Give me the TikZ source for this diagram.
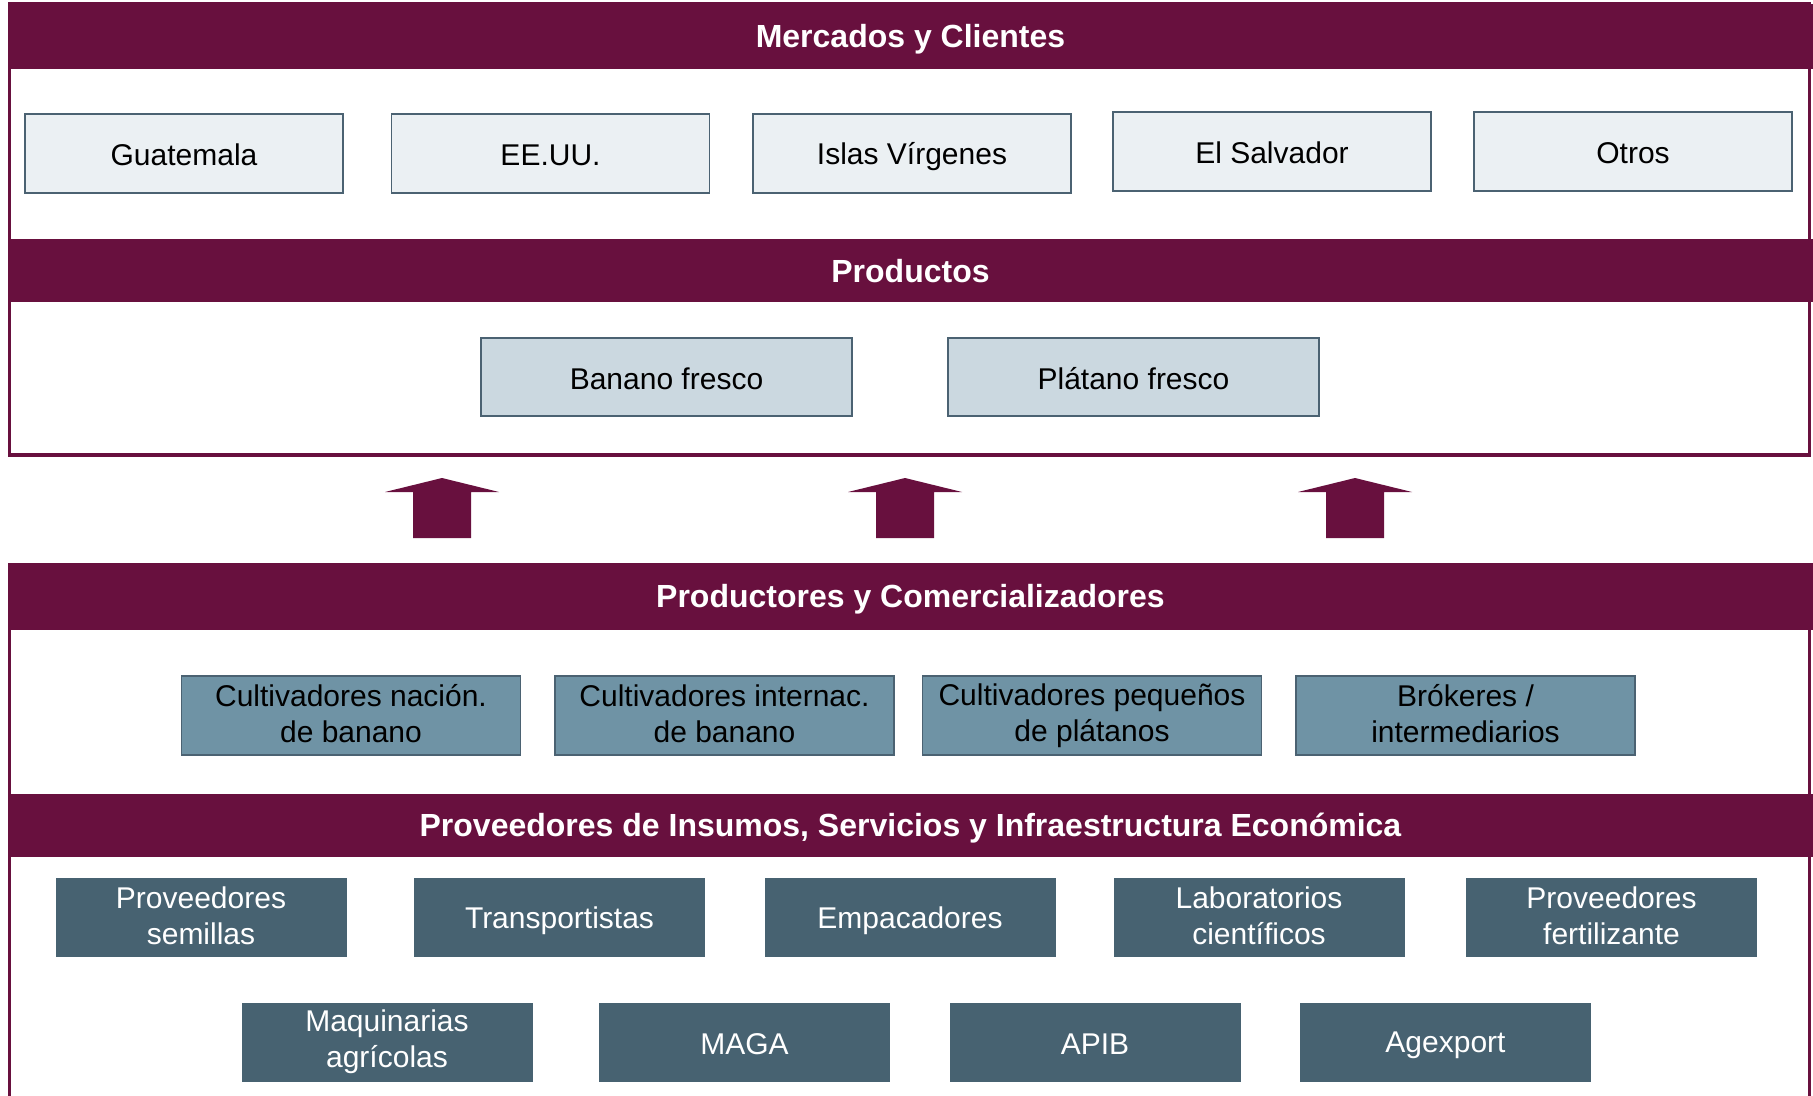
\documentclass[tikz,border=0pt]{standalone}
\usepackage{fontspec}
\setmainfont{Liberation Sans}
\usetikzlibrary{calc}
\definecolor{vino}{RGB}{104,16,62}
\definecolor{borde}{RGB}{75,98,114}
\definecolor{claro}{RGB}{235,240,243}
\definecolor{medio}{RGB}{203,216,224}
\definecolor{azul}{RGB}{111,147,165}
\definecolor{oscuro}{RGB}{71,98,113}
\newcommand\puntal{\rule[-2pt]{0pt}{16pt}}

\begin{document}
\begin{tikzpicture}[x=0.5pt,y=-0.5pt,
	every node/.style={font=\fontsize{15}{18}\selectfont, align=center, inner sep=0pt,
		execute at begin node=\puntal, execute at end node=\puntal},
	barra/.style={fill=vino, text=white, font=\fontsize{16}{19}\selectfont\bfseries, minimum width=902.5pt},
	pais/.style={draw=borde, fill=claro, line width=0.8pt, minimum width=159pt, minimum height=39.5pt},
	producto/.style={draw=borde, fill=medio, line width=0.8pt, minimum width=185.5pt, minimum height=39pt},
	productor/.style={draw=borde, fill=azul, line width=0.8pt, minimum width=169.5pt, minimum height=39.5pt},
	insumo/.style={fill=oscuro, text=white, minimum width=145.5pt, minimum height=39.5pt}]
	\useasboundingbox (0,0) rectangle (1813,1096);
	
	% marcos
	\draw[vino, line width=1.6pt] (9.5,4) rectangle (1809.5,455);
	\draw[vino, line width=1.6pt] (9.5,563) -- (9.5,1100);
	\draw[vino, line width=1.6pt] (1809.5,563) -- (1809.5,1100);
	
	% barras de titulo
	\node[barra, minimum height=32.5pt] (mercados) at (910.5,36.5) {Mercados y Clientes};
	\node[barra, minimum height=31.5pt] (productos) at (910.5,270.5) {Productos};
	\node[barra, minimum height=33.5pt] (productores) at (910.5,596.5) {Productores y Comercializadores};
	\node[barra, minimum height=31.5pt] (proveedores) at (910.5,825.5) {Proveedores de Insumos, Servicios y Infraestructura Económica};
	
	% mercados
	\node[pais] (guatemala) at (184,153.5) {Guatemala};
	\node[pais] (eeuu) at (550.5,153.5) {EE.UU.};
	\node[pais] (islas) at (912,153.5) {Islas Vírgenes};
	\node[pais] (salvador) at (1272,151.5) {El Salvador};
	\node[pais] (otros) at (1633,151.5) {Otros};
	
	% productos
	\node[producto] (banano) at (666.5,377) {Banano fresco};
	\node[producto] (platano) at (1133.5,377) {Plátano fresco};
	
	% flechas
	\foreach \cx in {442,905,1355}
	{
		\fill[vino] (\cx,478) -- (\cx+57,492) -- (\cx+29,492) -- (\cx+29,538)
			-- (\cx-29,538) -- (\cx-29,492) -- (\cx-57,492) -- cycle;
	}
	
	% productores
	\node[productor] (nacion) at (351,715.5) {Cultivadores nación.\\de banano};
	\node[productor] (internac) at (724.5,715.5) {Cultivadores internac.\\de banano};
	\node[productor] (pequenos) at (1092,715.5) {Cultivadores pequeños\\de plátanos};
	\node[productor] (brokeres) at (1465.5,715.5) {Brókeres /\\intermediarios};
	
	% proveedores
	\node[insumo] (semillas) at (201,917.5) {Proveedores\\semillas};
	\node[insumo] (transporte) at (559.5,917.5) {Transportistas};
	\node[insumo] (empacadores) at (910,917.5) {Empacadores};
	\node[insumo] (laboratorios) at (1259,917.5) {Laboratorios\\científicos};
	\node[insumo] (fertilizante) at (1611.5,917.5) {Proveedores\\fertilizante};
	\node[insumo] (maquinarias) at (387,1042) {Maquinarias\\agrícolas};
	\node[insumo] (maga) at (744.5,1042) {MAGA};
	\node[insumo] (apib) at (1095,1042) {APIB};
	\node[insumo] (agexport) at (1445.5,1042) {Agexport};
\end{tikzpicture}
\end{document}
